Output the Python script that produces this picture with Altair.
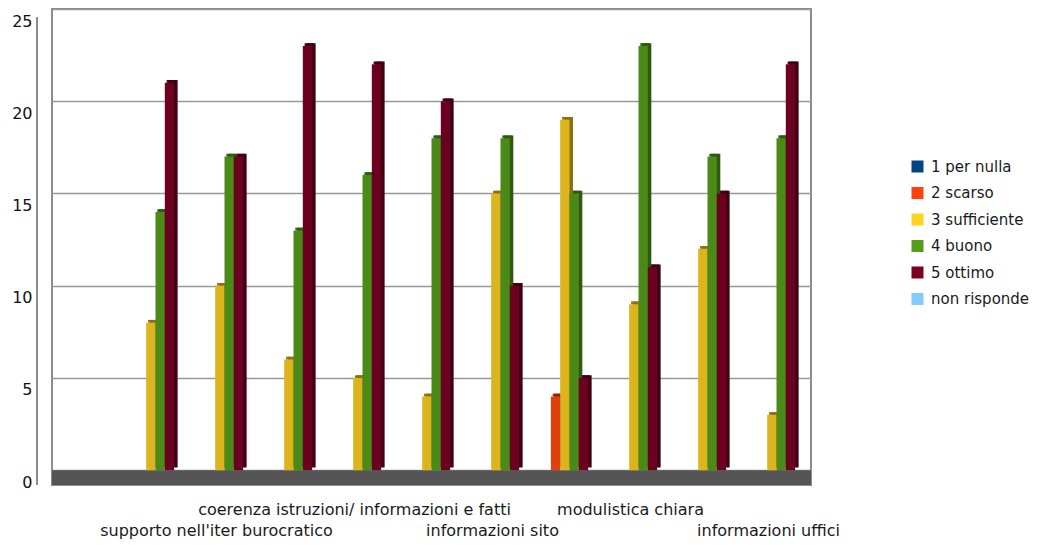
import altair as alt
import pandas as pd

# Category slots along the x axis; only every other slot carries a printed name
categories = list(range(1, 12))
tick_labels = [
    "",
    "",
    "supporto nell'iter burocratico",
    "",
    "coerenza istruzioni/ informazioni e fatti",
    "",
    "informazioni sito",
    "",
    "modulistica chiara",
    "",
    "informazioni uffici",
]

series = ["1 per nulla", "2 scarso", "3 sufficiente", "4 buono", "5 ottimo", "non risponde"]

per_nulla = [0, 0, 0, 0, 0, 0, 0, 0, 0, 0, 0]
scarso = [0, 0, 0, 0, 0, 0, 0, 4, 0, 0, 0]
sufficiente = [0, 8, 10, 6, 5, 4, 15, 19, 9, 12, 3]
buono = [0, 14, 17, 13, 16, 18, 18, 15, 23, 17, 18]
ottimo = [0, 21, 17, 23, 22, 20, 10, 5, 11, 15, 22]
non_risponde = [0, 0, 0, 0, 0, 0, 0, 0, 0, 0, 0]

y_ticks = [0, 5, 10, 15, 20, 25]

# Palette: legend swatches, lit front faces, shaded side faces, top caps
legend_colors = ["#004586", "#ff420e", "#ffd320", "#579d1c", "#7e0021", "#83caff"]
front_colors = ["#003a70", "#e0400e", "#dcb41e", "#4b8a19", "#6c0020", "#6fb0e0"]
side_colors = ["#002244", "#8a2808", "#8a7012", "#2d5a10", "#3f0012", "#4a7fa8"]
top_colors = ["#002a55", "#a8340a", "#9c8016", "#356812", "#4a0016", "#5a90c0"]

W, H = 759, 476
FONT = "DejaVu Sans"
FLOOR_DEPTH = -0.8
LIFT = 0.15          # small vertical lift of the shaded faces (value units)
PAD_IN, PAD_OUT = 0.19, 0.095
BAND = W / (len(categories) - PAD_IN + 2 * PAD_OUT) * (1 - PAD_IN)
FRAME = "#8c8c8c"

rows = []
for name, vals in zip(series, [per_nulla, scarso, sufficiente, buono, ottimo, non_risponde]):
    for c, v in zip(categories, vals):
        rows.append({"cat": c, "series": name, "value": v})
df = pd.DataFrame(rows)

labels_df = pd.DataFrame({"cat": categories, "label": tick_labels})
floor_df = pd.DataFrame({"lo": [FLOOR_DEPTH], "hi": [0.0]})

y_axis = alt.Axis(
    values=y_ticks,
    title=None,
    grid=True,
    gridColor="#999999",
    gridWidth=1.5,
    domain=False,
    ticks=False,
    offset=15,
    labelPadding=5,
    labelOffset=12,
    labelFont=FONT,
    labelFontSize=16,
    labelColor="#111111",
)
y_scale = alt.Scale(domain=[FLOOR_DEPTH, 25], nice=False, zero=False)

x_enc = alt.X(
    "cat:O",
    scale=alt.Scale(domain=categories, paddingInner=PAD_IN, paddingOuter=PAD_OUT),
    axis=None,
)


def xoff(shift):
    # series position inside each group, optionally nudged sideways for the shaded faces
    return alt.XOffset(
        "series:N",
        scale=alt.Scale(domain=series, paddingInner=0, paddingOuter=0, range=[shift, BAND + shift]),
    )


base = alt.Chart(df)

# Dark floor under the bars
floor = alt.Chart(floor_df).mark_rect(color="#555555").encode(
    x=alt.value(0),
    x2=alt.value(W),
    y=alt.Y("lo:Q", scale=y_scale, axis=y_axis),
    y2="hi:Q",
)

# Front-left edge of the box, next to the value labels
front_edge = alt.Chart(floor_df).mark_rule(color=FRAME, strokeWidth=2).encode(
    x=alt.value(-15), y=alt.value(8), y2=alt.value(H)
)

# Invisible layer that only provides the legend
legend_layer = base.mark_bar(opacity=0).encode(
    x=x_enc,
    xOffset=xoff(0),
    y=alt.Y("value:Q", scale=y_scale, axis=y_axis),
    color=alt.Color(
        "series:N",
        sort=series,
        scale=alt.Scale(domain=series, range=legend_colors),
        legend=alt.Legend(
            title=None,
            orient="none",
            legendX=858,
            legendY=150,
            symbolType="square",
            symbolSize=144,
            symbolOpacity=1,
            symbolStrokeWidth=0,
            labelFont=FONT,
            labelFontSize=15,
            labelColor="#1a1a1a",
            labelOffset=6,
            rowPadding=10.5,
        ),
    ),
)

nonzero = base.transform_filter("datum.value > 0").transform_calculate(
    lifted="datum.value + %f" % LIFT
)

# Top caps: thin strip above each bar, nudged right
tops = nonzero.mark_bar().encode(
    x=x_enc,
    xOffset=xoff(1.8),
    y=alt.Y("lifted:Q", scale=y_scale, axis=y_axis),
    y2="value:Q",
    color=alt.Color("series:N", scale=alt.Scale(domain=series, range=top_colors), legend=None),
)

# Side faces: darker copy shifted right, peeking out past the front face
sides = nonzero.mark_bar().encode(
    x=x_enc,
    xOffset=xoff(3.5),
    y=alt.Y("lifted:Q", scale=y_scale, axis=y_axis),
    y2=alt.datum(LIFT),
    color=alt.Color("series:N", scale=alt.Scale(domain=series, range=side_colors), legend=None),
)

fronts = nonzero.mark_bar().encode(
    x=x_enc,
    xOffset=xoff(0),
    y=alt.Y("value:Q", scale=y_scale, axis=y_axis),
    y2=alt.datum(0),
    color=alt.Color("series:N", scale=alt.Scale(domain=series, range=front_colors), legend=None),
)

# Category names, staggered on two rows
lab_base = alt.Chart(labels_df).transform_calculate(row="datum.cat % 4 == 1 ? 'upper' : 'lower'")
upper = lab_base.transform_filter("datum.row == 'upper'").mark_text(
    font=FONT, fontSize=16, color="#1a1a1a", dx=-8, baseline="middle"
).encode(x=x_enc, y=alt.value(501), text="label:N")
lower = lab_base.transform_filter("datum.row == 'lower'").mark_text(
    font=FONT, fontSize=16, color="#1a1a1a", dx=-8, baseline="middle"
).encode(x=x_enc, y=alt.value(522), text="label:N")

chart = (
    alt.layer(floor, front_edge, legend_layer, tops, sides, fronts, upper, lower)
    .resolve_scale(color="independent", xOffset="independent")
    .properties(
        width=W,
        height=H,
        padding={"left": 52, "top": 9, "right": 235, "bottom": 60},
        autosize=alt.AutoSizeParams(type="none"),
        background="white",
    )
    .configure_view(stroke=FRAME, strokeWidth=2)
)

chart.save("out.html", embed_options={"renderer": "svg", "actions": False})
